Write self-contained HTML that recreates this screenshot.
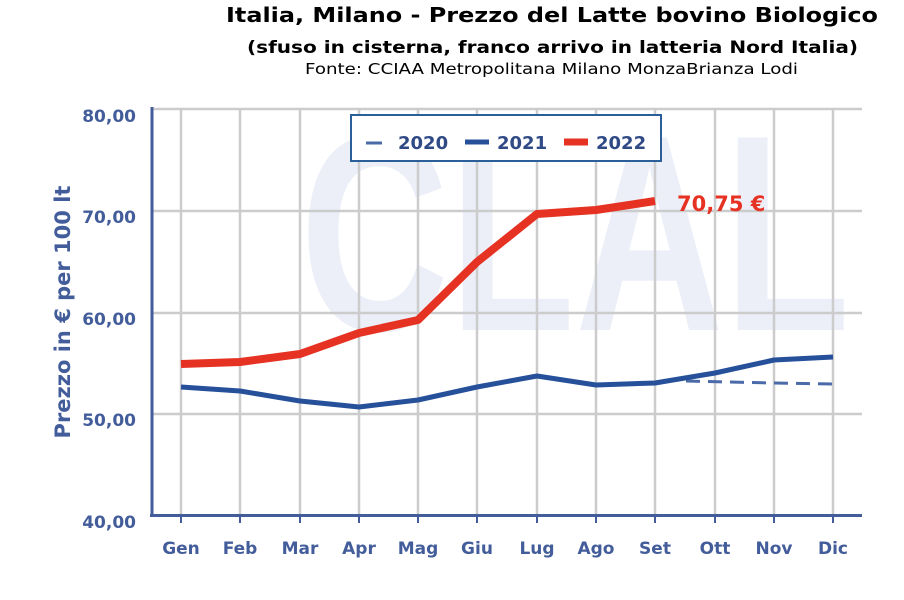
<!DOCTYPE html>
<html><head><meta charset="utf-8"><style>
html,body{margin:0;padding:0;background:#fff;}
svg{display:block;font-family:"DejaVu Sans",Verdana,sans-serif;}
</style></head><body>
<svg width="904" height="600" viewBox="0 0 904 600">
<rect width="904" height="600" fill="#fff"/>
<text x="226" y="22" font-size="20" font-weight="bold" fill="#000" textLength="652" lengthAdjust="spacingAndGlyphs">Italia, Milano - Prezzo del Latte bovino Biologico</text>
<text x="247" y="53" font-size="17" font-weight="bold" fill="#000" textLength="611" lengthAdjust="spacingAndGlyphs">(sfuso in cisterna, franco arrivo in latteria Nord Italia)</text>
<text x="305" y="74" font-size="15" fill="#000" textLength="493" lengthAdjust="spacingAndGlyphs">Fonte: CCIAA Metropolitana Milano MonzaBrianza Lodi</text>
<!-- watermark -->
<text x="300" y="330" font-size="280" font-weight="bold" fill="#eceff8" font-family="Liberation Sans, sans-serif" textLength="550" lengthAdjust="spacingAndGlyphs">CLAL</text>
<!-- grid -->
<g stroke="#cccccc" stroke-width="2.5">
<line x1="152" y1="109" x2="862" y2="109"/>
<line x1="152" y1="211" x2="862" y2="211"/>
<line x1="152" y1="313" x2="862" y2="313"/>
<line x1="152" y1="414" x2="862" y2="414"/>
<line x1="181" y1="109" x2="181" y2="515"/><line x1="240" y1="109" x2="240" y2="515"/>
<line x1="300" y1="109" x2="300" y2="515"/><line x1="359" y1="109" x2="359" y2="515"/>
<line x1="418" y1="109" x2="418" y2="515"/><line x1="477" y1="109" x2="477" y2="515"/>
<line x1="537" y1="109" x2="537" y2="515"/><line x1="596" y1="109" x2="596" y2="515"/>
<line x1="655" y1="109" x2="655" y2="515"/><line x1="715" y1="109" x2="715" y2="515"/>
<line x1="774" y1="109" x2="774" y2="515"/><line x1="833" y1="109" x2="833" y2="515"/>
</g>
<!-- axes -->
<line x1="152" y1="107" x2="152" y2="517" stroke="#435d9b" stroke-width="3"/>
<line x1="150" y1="515.5" x2="862" y2="515.5" stroke="#435d9b" stroke-width="3"/>
<g stroke="#435d9b" stroke-width="2">
<line x1="181" y1="515" x2="181" y2="523"/><line x1="240" y1="515" x2="240" y2="523"/>
<line x1="300" y1="515" x2="300" y2="523"/><line x1="359" y1="515" x2="359" y2="523"/>
<line x1="418" y1="515" x2="418" y2="523"/><line x1="477" y1="515" x2="477" y2="523"/>
<line x1="537" y1="515" x2="537" y2="523"/><line x1="596" y1="515" x2="596" y2="523"/>
<line x1="655" y1="515" x2="655" y2="523"/><line x1="715" y1="515" x2="715" y2="523"/>
<line x1="774" y1="515" x2="774" y2="523"/><line x1="833" y1="515" x2="833" y2="523"/>
</g>
<g font-size="17" font-weight="bold" fill="#435d9b" text-anchor="end">
<text x="136" y="122">80,00</text><text x="136" y="223">70,00</text>
<text x="136" y="325">60,00</text><text x="136" y="426">50,00</text><text x="136" y="528">40,00</text>
</g>
<g font-size="17" font-weight="bold" fill="#435d9b" text-anchor="middle">
<text x="181" y="554">Gen</text><text x="240" y="554">Feb</text><text x="300" y="554">Mar</text>
<text x="359" y="554">Apr</text><text x="418" y="554">Mag</text><text x="477" y="554">Giu</text>
<text x="537" y="554">Lug</text><text x="596" y="554">Ago</text><text x="655" y="554">Set</text>
<text x="715" y="554">Ott</text><text x="774" y="554">Nov</text><text x="833" y="554">Dic</text>
</g>
<text transform="translate(70,312) rotate(-90)" text-anchor="middle" font-size="21" font-weight="bold" fill="#435d9b">Prezzo in € per 100 lt</text>
<!-- series -->
<polyline fill="none" stroke="#4a6aa8" stroke-width="3" stroke-dasharray="14,8" points="686,381 774,383 833,384"/>
<polyline fill="none" stroke="#26509a" stroke-width="5" stroke-linejoin="round" points="181,387 240,391 300,401 359,407 418,400 477,387 537,376 596,385 655,383 715,373 774,360 833,357"/>
<polyline fill="none" stroke="#e63223" stroke-width="8" stroke-linejoin="round" points="181,364 240,362 300,354 359,333 418,320 477,262 537,214 596,210 655,201"/>
<text x="677" y="211" font-size="21" font-weight="bold" fill="#e63223">70,75 €</text>
<!-- legend -->
<rect x="351" y="115" width="310" height="46" fill="#fff" stroke="#2b5f99" stroke-width="2"/>
<line x1="366" y1="143" x2="382" y2="143" stroke="#4a6aa8" stroke-width="3"/>
<line x1="465" y1="142" x2="489" y2="142" stroke="#26509a" stroke-width="5"/>
<line x1="564" y1="142" x2="588" y2="142" stroke="#e63223" stroke-width="7"/>
<g font-size="18" font-weight="bold" fill="#2f4a85">
<text x="398" y="149">2020</text><text x="497" y="149">2021</text><text x="596" y="149">2022</text>
</g>
</svg>
</body></html>
